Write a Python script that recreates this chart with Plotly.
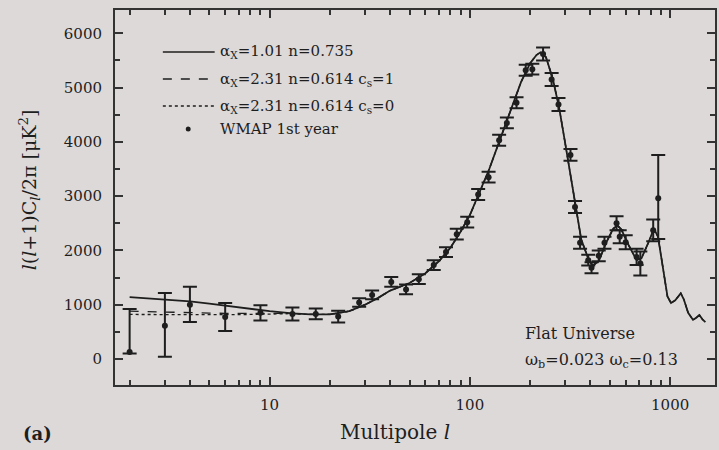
import plotly.graph_objects as go

# ---------------- data ----------------
wmap_l = [2, 3, 4, 6, 9, 13, 17, 22, 28, 32.5, 40.5, 48, 55.6, 66, 76, 86, 97, 110, 124, 140,
          153, 171, 190, 205, 232, 256, 277, 318, 335, 355, 390, 405, 440, 470, 540, 560, 600,
          680, 710, 823, 872]
wmap_val = [130, 610, 1000, 775, 850, 830, 830, 780, 1040, 1180, 1420, 1280, 1470, 1730, 1970,
            2300, 2520, 3030, 3350, 4030, 4350, 4720, 5320, 5340, 5620, 5150, 4690, 3760, 2800,
            2140, 1820, 1680, 1900, 2140, 2500, 2250, 2150, 1880, 1760, 2370, 2960]
wmap_err_plus = [790, 605, 330, 255, 140, 120, 100, 110, 80, 80, 90, 90, 90, 90, 90, 100, 100,
                 100, 100, 100, 100, 100, 100, 100, 120, 120, 120, 110, 110, 110, 100, 100, 100,
                 110, 130, 120, 130, 150, 220, 200, 800]
wmap_err_minus = [30, 570, 320, 260, 140, 120, 100, 110, 80, 80, 90, 90, 90, 90, 90, 100, 100,
                  100, 100, 100, 100, 100, 100, 100, 120, 120, 120, 110, 110, 110, 100, 100, 100,
                  110, 130, 120, 130, 150, 220, 200, 750]

theory_l = [2, 3, 4, 5, 6, 8, 10, 13, 16, 20, 25, 30, 35, 40, 50, 60, 70, 80, 90, 100,
            110, 125, 140, 160, 180, 200, 215, 225, 240, 260, 280, 300, 320, 340, 360, 390,
            410, 440, 480, 520, 545, 570, 620, 680, 720, 780, 830, 870, 920, 970, 1010, 1060,
            1130, 1170, 1230, 1300, 1350, 1400, 1450, 1500]
solid_ax101 = [1140, 1100, 1060, 1020, 980, 920, 880, 840, 820, 820, 880, 1000, 1130, 1260, 1400,
               1580, 1800, 2050, 2350, 2650, 3000, 3500, 4000, 4600, 5100, 5450, 5600, 5650, 5560,
               5150, 4600, 3950, 3300, 2700, 2200, 1850, 1720, 1800, 2150, 2400, 2460, 2390, 2100,
               1820, 1860, 2150, 2400, 2250, 1650, 1150, 1030, 1080, 1210, 1100, 850, 720, 760,
               810, 730, 680]
dashed_low = [880, 860, 850, 845, 840, 840, 845, 840, 820, 820]
dotted_low = [820, 815, 815, 815, 815, 820, 830, 835, 820, 820]

legend_labels = ["α<sub>X</sub>=1.01 n=0.735",
                 "α<sub>X</sub>=2.31 n=0.614 c<sub>s</sub>=1",
                 "α<sub>X</sub>=2.31 n=0.614 c<sub>s</sub>=0",
                 "WMAP 1st year"]
x_major = [10, 100, 1000]
x_minor = [2, 3, 4, 5, 6, 7, 8, 9, 20, 30, 40, 50, 60, 70, 80, 90, 200, 300, 400, 500, 600,
           700, 800, 900]

dashed_cs1 = dashed_low + solid_ax101[len(dashed_low):]
dotted_cs0 = dotted_low + solid_ax101[len(dotted_low):]

BG = "#ddd9d8"
INK = "#1e1e1e"
FONT = "DejaVu Serif"

fig = go.Figure()
fig.add_trace(go.Scatter(x=theory_l, y=dotted_cs0, mode="lines",
                         line=dict(color=INK, width=1.3, dash="dot"), showlegend=False))
fig.add_trace(go.Scatter(x=theory_l, y=dashed_cs1, mode="lines",
                         line=dict(color=INK, width=1.3, dash="dash"), showlegend=False))
fig.add_trace(go.Scatter(x=theory_l, y=solid_ax101, mode="lines",
                         line=dict(color=INK, width=1.8), showlegend=False))
fig.add_trace(go.Scatter(x=wmap_l, y=wmap_val, mode="markers",
                         marker=dict(color=INK, size=6),
                         error_y=dict(type="data", symmetric=False, array=wmap_err_plus,
                                      arrayminus=wmap_err_minus, color=INK, thickness=2,
                                      width=7),
                         showlegend=False))

# manual legend (paper coordinates)
ph = 385 - 10
pw = 717 - 115
def px(xp):
    return (xp - 115) / pw
def py(yp):
    return (385 - yp) / ph

rows = [52, 79, 106, 129]
dashes = ["solid", "dash", "dot"]
for i, d in enumerate(dashes):
    fig.add_shape(type="line", xref="paper", yref="paper", x0=px(163), x1=px(215),
                  y0=py(rows[i]), y1=py(rows[i]), line=dict(color=INK, width=1.5, dash=d))
fig.add_shape(type="circle", xref="paper", yref="paper", x0=px(186), x1=px(191),
              y0=py(rows[3] + 2.5), y1=py(rows[3] - 2.5), fillcolor=INK, line=dict(width=0))
for i, t in enumerate(legend_labels):
    fig.add_annotation(x=px(218), y=py(rows[i]), xref="paper", yref="paper", text=t,
                       showarrow=False, xanchor="left", yanchor="middle",
                       font=dict(family=FONT, size=15, color=INK))

fig.add_annotation(x=px(524), y=py(333), xref="paper", yref="paper", text="Flat Universe",
                   showarrow=False, xanchor="left", yanchor="middle",
                   font=dict(family=FONT, size=16, color=INK))
fig.add_annotation(x=px(524), y=py(360), xref="paper", yref="paper",
                   text="ω<sub>b</sub>=0.023 ω<sub>c</sub>=0.13",
                   showarrow=False, xanchor="left", yanchor="middle",
                   font=dict(family=FONT, size=16, color=INK))
fig.add_annotation(x=px(396), y=py(432), xref="paper", yref="paper",
                   text="Multipole <i>l</i>", showarrow=False, xanchor="center",
                   yanchor="middle", font=dict(family=FONT, size=20, color=INK))
fig.add_annotation(x=px(37), y=py(433), xref="paper", yref="paper",
                   text="<b>(a)</b>", showarrow=False, xanchor="center",
                   yanchor="middle", font=dict(family=FONT, size=18, color=INK))
fig.add_annotation(x=px(29), y=py(190), xref="paper", yref="paper",
                   text="<i>l</i>(<i>l</i>+1)C<sub><i>l</i></sub>/2π [μK<sup>2</sup>]",
                   textangle=-90, showarrow=False, xanchor="center", yanchor="middle",
                   font=dict(family=FONT, size=19, color=INK))

fig.update_layout(
    width=719, height=450,
    margin=dict(l=115, r=2, t=10, b=65),
    paper_bgcolor=BG, plot_bgcolor=BG,
    font=dict(family=FONT, size=15, color=INK),
    showlegend=False,
)
fig.update_xaxes(type="log", range=[0.228, 3.224], showgrid=False, zeroline=False,
                 showline=True, linecolor="#333333", linewidth=2, mirror="allticks",
                 ticks="inside", ticklen=8, tickwidth=1.5, tickcolor="#333333",
                 tickmode="array", tickvals=x_major, ticktext=[str(v) for v in x_major],
                 ticklabelstandoff=5,
                 minor=dict(tickmode="array", tickvals=x_minor, ticks="inside", ticklen=5,
                            tickwidth=1.5, tickcolor="#333333", showgrid=False))
fig.update_yaxes(range=[-480, 6430], showgrid=False, zeroline=False,
                 showline=True, linecolor="#333333", linewidth=2, mirror="allticks",
                 ticks="inside", ticklen=8, tickwidth=1.5, tickcolor="#333333",
                 dtick=1000, tick0=0, ticklabelstandoff=8,
                 minor=dict(dtick=500, tick0=0, ticks="inside", ticklen=5, tickwidth=1.5,
                            tickcolor="#333333", showgrid=False))

fig.write_html("out.html")
